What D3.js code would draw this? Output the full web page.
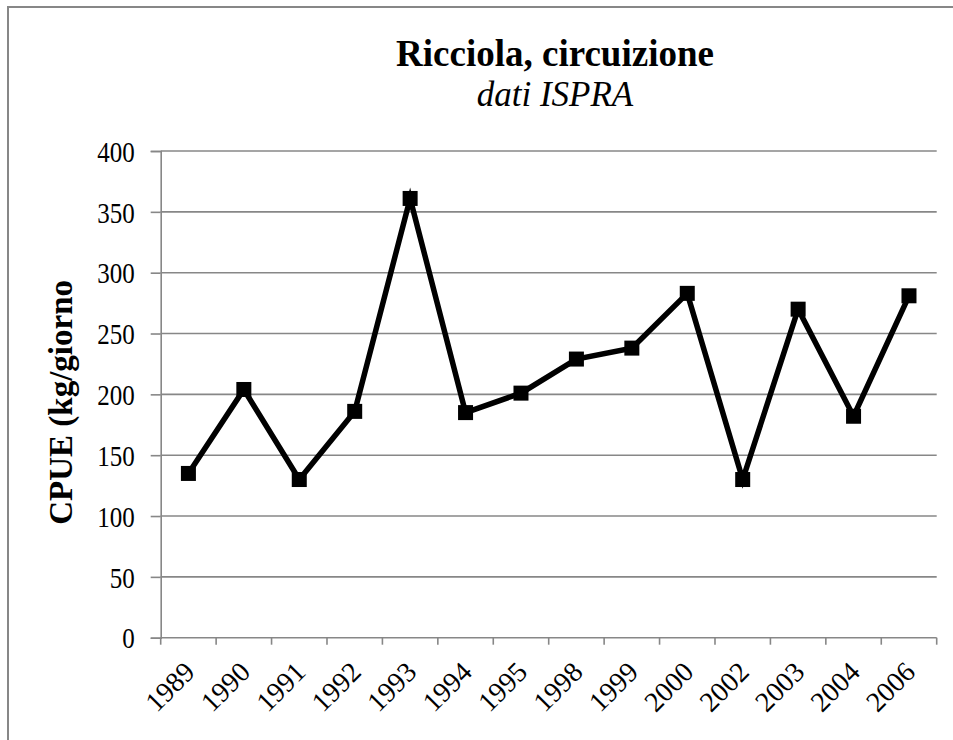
<!DOCTYPE html>
<html>
<head>
<meta charset="utf-8">
<script src="https://cdn.jsdelivr.net/npm/d3@7"></script>
<style>
  body { margin: 0; background: #fff; }
  svg { display: block; }
</style>
</head>
<body>
<div id="chart"></div>
<script>
const width = 953;
const height = 740;

// data
const years = ["1989", "1990", "1991", "1992", "1993", "1994", "1995",
               "1998", "1999", "2000", "2002", "2003", "2004", "2006"];
const cpue = [135, 204, 130, 186, 361, 185, 201, 229, 238, 283, 130, 270, 182, 281];
const yTicks = [0, 50, 100, 150, 200, 250, 300, 350, 400];

const margin = {left: 160.7, right: 16.3, top: 151, bottom: 102.3};
const grey = "#878787";
const serif = "'Liberation Serif', 'Times New Roman', serif";

const svg = d3.select("#chart")
    .append("svg")
    .attr("width", width)
    .attr("height", height);

svg.append("rect")
    .attr("width", width)
    .attr("height", height)
    .attr("fill", "white");

// outer chart border (runs off the right and bottom edge)
svg.append("rect")
    .attr("x", 8)
    .attr("y", 7)
    .attr("width", width + 10)
    .attr("height", height + 10)
    .attr("fill", "none")
    .attr("stroke", grey)
    .attr("stroke-width", 2);

const x = d3.scaleBand()
    .domain(years)
    .range([margin.left, width - margin.right])
    .padding(0);

const y = d3.scaleLinear()
    .domain([0, 400])
    .range([height - margin.bottom, margin.top]);

// gridlines
svg.append("g")
    .selectAll("line")
    .data(yTicks.filter(d => d > 0))
    .enter()
    .append("line")
    .attr("x1", margin.left)
    .attr("x2", width - margin.right)
    .attr("y1", d => y(d))
    .attr("y2", d => y(d))
    .attr("stroke", grey)
    .attr("stroke-width", 1.6);

// y axis
const yAxis = svg.append("g")
    .attr("transform", `translate(${margin.left},0)`)
    .call(d3.axisLeft(y).tickValues(yTicks).tickSize(10).tickPadding(16));
yAxis.select(".domain").attr("stroke", grey).attr("stroke-width", 1.6);
yAxis.selectAll(".tick line").attr("stroke", grey).attr("stroke-width", 1.6);
yAxis.selectAll(".tick text")
    .attr("fill", "black")
    .attr("dy", "0.34em")
    .attr("transform", "scale(1,1.2)")
    .style("font-family", serif)
    .style("font-size", "25px");

// x axis: ticks sit between the categories
const xBase = y(0);
const xAxis = svg.append("g");
xAxis.append("line")
    .attr("x1", margin.left)
    .attr("x2", width - margin.right)
    .attr("y1", xBase)
    .attr("y2", xBase)
    .attr("stroke", grey)
    .attr("stroke-width", 1.6);
xAxis.selectAll(".tk")
    .data(years.concat(["end"]))
    .enter()
    .append("line")
    .attr("class", "tk")
    .attr("x1", d => d === "end" ? x.range()[1] : x(d))
    .attr("x2", d => d === "end" ? x.range()[1] : x(d))
    .attr("y1", xBase)
    .attr("y2", xBase + 7)
    .attr("stroke", grey)
    .attr("stroke-width", 1.6);
xAxis.selectAll("text")
    .data(years)
    .enter()
    .append("text")
    .attr("transform", d => `translate(${x(d) + x.bandwidth() / 2 + 8},${xBase + 36}) rotate(-45)`)
    .attr("text-anchor", "end")
    .style("font-family", serif)
    .style("font-size", "28px")
    .text(d => d);

// series line
const line = d3.line()
    .x((d, i) => x(years[i]) + x.bandwidth() / 2)
    .y(d => y(d));

svg.append("path")
    .datum(cpue)
    .attr("d", line)
    .attr("fill", "none")
    .attr("stroke", "black")
    .attr("stroke-width", 5.5)
    .attr("stroke-linejoin", "miter");

const ms = 15;
svg.selectAll(".marker")
    .data(cpue)
    .enter()
    .append("rect")
    .attr("class", "marker")
    .attr("x", (d, i) => x(years[i]) + x.bandwidth() / 2 - ms / 2)
    .attr("y", d => y(d) - ms / 2)
    .attr("width", ms)
    .attr("height", ms)
    .attr("fill", "black");

// titles
svg.append("text")
    .attr("x", 555)
    .attr("y", 66)
    .attr("text-anchor", "middle")
    .style("font-family", serif)
    .style("font-weight", "bold")
    .style("font-size", "37px")
    .text("Ricciola, circuizione");

svg.append("text")
    .attr("x", 555)
    .attr("y", 106)
    .attr("text-anchor", "middle")
    .style("font-family", serif)
    .style("font-style", "italic")
    .style("font-size", "35px")
    .text("dati ISPRA");

svg.append("text")
    .attr("transform", `translate(72,${(margin.top + xBase) / 2 + 8}) rotate(-90)`)
    .attr("text-anchor", "middle")
    .style("font-family", serif)
    .style("font-weight", "bold")
    .style("font-size", "33px")
    .text("CPUE (kg/giorno");
</script>
</body>
</html>
